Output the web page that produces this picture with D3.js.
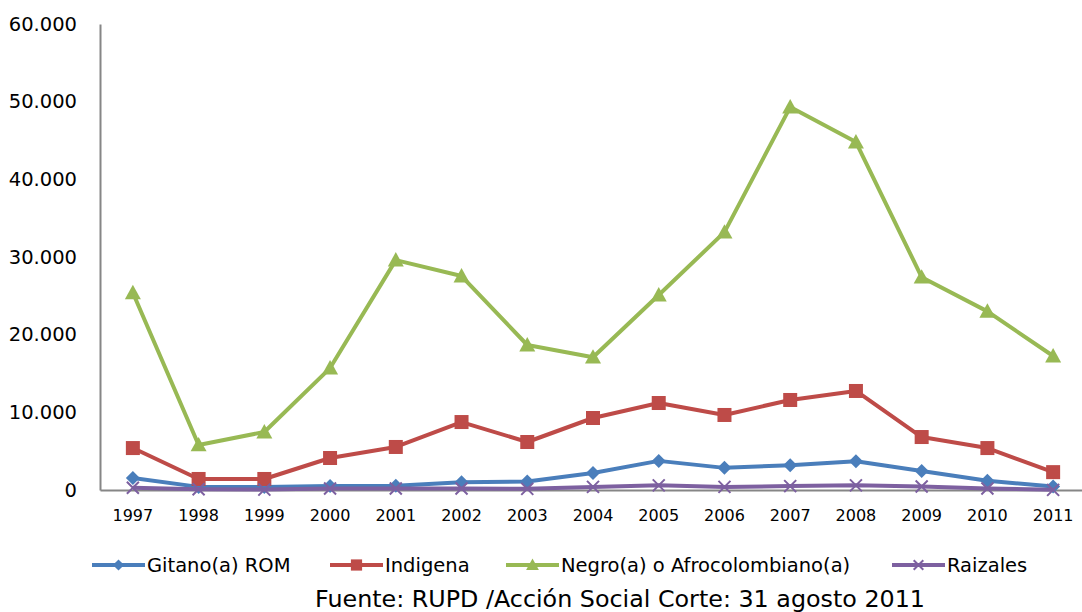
<!DOCTYPE html>
<html><head><meta charset="utf-8">
<script src="https://cdn.jsdelivr.net/npm/d3@7"></script>
<style>body{margin:0;background:#fff}svg{display:block}text{font-family:"DejaVu Sans",sans-serif;fill:#000}</style>
</head><body><svg id="c" width="1082" height="612"></svg>
<script>
const years = ["1997","1998","1999","2000","2001","2002","2003","2004","2005","2006","2007","2008","2009","2010","2011"];
const gitano = [1550,400,400,500,550,1000,1100,2200,3750,2850,3200,3700,2450,1200,450];
const indigena = [5400,1420,1420,4120,5540,8750,6180,9270,11200,9660,11590,12750,6820,5400,2300];
const negro = [25400,5800,7470,15700,29600,27550,18670,17100,25100,33200,49300,44800,27400,23000,17250];
const raizales = [300,100,50,200,200,200,150,400,600,400,500,600,450,200,20];
const seriesNames = ["Gitano(a) ROM","Indigena","Negro(a) o Afrocolombiano(a)","Raizales"];
const yTicks = [0,10000,20000,30000,40000,50000,60000];
const sourceText = "Fuente: RUPD /Acción Social Corte: 31 agosto 2011";

const colors = ["#4A7EBB","#BE4B48","#98B954","#7D60A0"];
const symbols = ["diamond","square","triangle","cross"];
const series = [gitano, indigena, negro, raizales].map((v,i)=>({name:seriesNames[i], values:v, color:colors[i], sym:symbols[i]}));

const svg = d3.select("#c");
const x = d3.scaleBand().domain(years).range([100,1086]);
const y = d3.scaleLinear().domain([0,60000]).range([490,24]);
const fmt = v => v===0 ? "0" : d3.format(",")(v).replace(/,/g,".");

// y axis
const ya = svg.append("g").attr("transform","translate(100,0)")
  .call(d3.axisLeft(y).tickValues(yTicks).tickSize(0).tickPadding(23).tickFormat(fmt));
ya.select(".domain").attr("stroke","#868686").attr("stroke-width",2);
ya.selectAll("text").style("font-size","19.5px").style("font-family","DejaVu Sans");

// x axis
const xa = svg.append("g").attr("transform","translate(0,490)")
  .call(d3.axisBottom(x).tickSize(0).tickPadding(20));
xa.select(".domain").attr("stroke","#868686").attr("stroke-width",2);
xa.selectAll("text").style("font-size","16px").style("font-family","DejaVu Sans");

const cx = d => x(d) + x.bandwidth()/2;
const line = d3.line().x((d,i)=>cx(years[i])).y(d=>y(d));

function drawMarker(g, s, px, py, scale){
  scale = scale||1;
  if(s.sym==="diamond"){
    const r=7*scale;
    g.append("path").attr("d",`M${px},${py-r}L${px+r},${py}L${px},${py+r}L${px-r},${py}Z`).attr("fill",s.color);
  } else if(s.sym==="square"){
    const r=7*scale;
    g.append("rect").attr("x",px-r).attr("y",py-r).attr("width",2*r).attr("height",2*r).attr("fill",s.color);
  } else if(s.sym==="triangle"){
    const r=8*scale;
    g.append("path").attr("d",`M${px},${py-r}L${px+r},${py+r*0.8}L${px-r},${py+r*0.8}Z`).attr("fill",s.color);
  } else {
    const r=6*scale;
    g.append("path").attr("d",`M${px-r},${py-r}L${px+r},${py+r}M${px-r},${py+r}L${px+r},${py-r}`).attr("stroke",s.color).attr("stroke-width",2);
  }
}

series.forEach(s=>{
  const g = svg.append("g");
  g.append("path").attr("d",line(s.values)).attr("fill","none").attr("stroke",s.color).attr("stroke-width",4).attr("stroke-linejoin","round");
  s.values.forEach((v,i)=>drawMarker(g,s,cx(years[i]),y(v)));
});

// legend
const legX = [92,330,506,892];
series.forEach((s,i)=>{
  const g = svg.append("g");
  const ly = 565;
  g.append("line").attr("x1",legX[i]).attr("x2",legX[i]+53).attr("y1",ly).attr("y2",ly).attr("stroke",s.color).attr("stroke-width",4);
  drawMarker(g,s,legX[i]+26.5,ly,0.8);
  g.append("text").attr("x",legX[i]+55).attr("y",ly).attr("dy","0.35em").style("font-size","19.5px").text(s.name);
});

svg.append("text").attr("x",620).attr("y",607).attr("text-anchor","middle").style("font-size","23.8px").text(sourceText);
</script></body></html>
